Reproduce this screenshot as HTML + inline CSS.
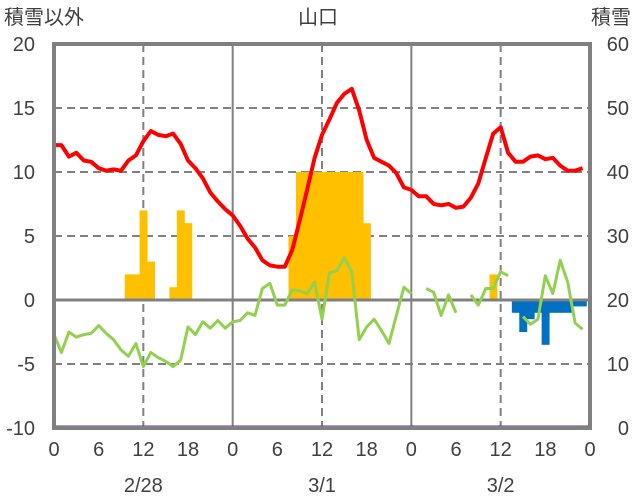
<!DOCTYPE html>
<html><head><meta charset="utf-8"><style>
body{margin:0;background:#fff}
svg{display:block;font-family:"Liberation Sans","Noto Sans CJK JP",sans-serif}
</style></head><body>
<svg id="c" width="636" height="501" xmlns="http://www.w3.org/2000/svg"></svg>
<script>
const temps=[12.1,12.1,11.2,11.5,10.9,10.8,10.3,10.1,10.2,10.1,10.9,11.3,12.4,13.2,12.9,12.8,13.0,12.2,10.9,10.3,9.5,8.4,7.7,7.1,
6.6,5.8,4.8,4.1,3.1,2.7,2.6,2.6,3.9,6.2,8.6,11.1,12.9,14.1,15.4,16.1,16.5,14.8,12.5,11.1,10.8,10.5,9.9,8.8,
8.6,8.1,8.1,7.5,7.4,7.5,7.2,7.3,8.0,9.1,11.1,13.0,13.5,11.5,10.8,10.8,11.2,11.3,11.0,11.1,10.5,10.1,10.1,10.3];
const green=[-2.7,-4.1,-2.5,-2.9,-2.7,-2.6,-2.0,-2.6,-3.1,-3.9,-4.4,-3.4,-5.2,-4.1,-4.5,-4.8,-5.2,-4.7,-2.1,-2.7,-1.7,-2.2,-1.6,-2.2,
-1.7,-1.6,-1.0,-1.2,0.9,1.3,-0.4,-0.4,0.8,0.7,0.5,1.4,-1.5,2.1,2.3,3.3,2.2,-3.1,-2.1,-1.5,-2.4,-3.4,-1.2,1.0,
0.5,null,0.9,0.6,-1.2,0.4,-1.0,null,0.4,-0.4,0.9,0.9,2.2,1.9,null,-1.3,-1.9,-1.5,1.9,0.5,3.1,1.4,-1.8,-2.3];
const orangeHours=[10,11,12,13,16,17,18,32,33,34,35,36,37,38,39,40,41,42,59];
const orangeVals=[2,2,7,3,1,7,6,5,10,10,10,10,10,10,10,10,10,6,2];
const blueHours=[62,63,64,65,66,67,68,69,70,71];
const blueVals=[-1,-2.5,-1.5,-1,-3.5,-1,-1,-1,-0.5,-0.5];
const leftTicks=[20,15,10,5,0,-5,-10];
const rightTicks=[60,50,40,30,20,10,0];
const hourTicks=[0,6,12,18,0,6,12,18,0,6,12,18,0];
const dayLabels=['2/28','3/1','3/2'];

const X0=54,X1=590,Y0=44,Y1=428;
const x=h=>X0+h*(X1-X0)/72;
const y=v=>Y0+(20-v)*(Y1-Y0)/30;
const yr=v=>Y0+(60-v)*(Y1-Y0)/60;
const svg=document.getElementById('c');
const NS='http://www.w3.org/2000/svg';
function el(t,a,p){const e=document.createElementNS(NS,t);for(const k in a)e.setAttribute(k,a[k]);(p||svg).appendChild(e);return e;}
const TC='#404040';
leftTicks.forEach(v=>{if(v===20||v===-10||v===0)return;
const g=el('line',{x1:X0,x2:X1,y1:y(v),y2:y(v),stroke:'#808080','stroke-width':2,'stroke-dasharray':'8,5'});

});
[12,36,60].forEach(h=>{const g=el('line',{x1:x(h),x2:x(h),y1:Y0,y2:Y1,stroke:'#808080','stroke-width':2,'stroke-dasharray':'8,5'});

});
[24,48].forEach(h=>{const g=el('line',{x1:x(h),x2:x(h),y1:Y0,y2:Y1,stroke:'#808080','stroke-width':2});

});
const bw=(X1-X0)/72;
orangeHours.forEach((h,i)=>{const v=orangeVals[i];
const r=el('rect',{x:x(h)-bw/2,y:y(v),width:bw+0.5,height:y(0)-y(v),fill:'#FFC000'});

});
blueHours.forEach((h,i)=>{const v=blueVals[i];
const r=el('rect',{x:x(h)-bw/2,y:y(0),width:bw+0.5,height:y(v)-y(0),fill:'#0070C0'});

});
const z=el('line',{x1:X0,x2:X1,y1:y(0),y2:y(0),stroke:'#808080','stroke-width':3});


let d='',pen=false;
green.forEach((v,h)=>{if(v===null){pen=false;return;}d+=(pen?'L':'M')+x(h).toFixed(1)+','+y(v).toFixed(1);pen=true;});
const gp=el('path',{d:d,fill:'none',stroke:'#92D050','stroke-width':3,'stroke-linejoin':'round'});


let dr='';temps.forEach((v,h)=>{dr+=(h?'L':'M')+x(h).toFixed(1)+','+y(v).toFixed(1);});
const rp=el('path',{d:dr,fill:'none',stroke:'#FF0000','stroke-width':4,'stroke-linejoin':'round'});


const pl=el('line',{x1:X0,x2:X1,y1:y(-10)-1,y2:y(-10)-1,stroke:'#7030A0','stroke-width':3});


const fr=el('rect',{x:X0,y:Y0,width:X1-X0,height:Y1-Y0,fill:'none',stroke:'#808080','stroke-width':4});


function txt(s,a,name){const t=el('text',Object.assign({fill:TC,'font-size':20},a));t.textContent=s;

return t;}
leftTicks.forEach(v=>txt(String(v),{x:35,y:y(v)+7,'text-anchor':'end'},'left-tick-label'));
rightTicks.forEach(v=>txt(String(v),{x:629,y:yr(v)+7,'text-anchor':'end'},'right-tick-label'));
hourTicks.forEach((s,i)=>txt(String(s),{x:x(i*6),y:456,'text-anchor':'middle'},'x-tick-label'));
dayLabels.forEach((s,i)=>txt(s,{x:x(12+i*24),y:492,'text-anchor':'middle'},'date-label'));
txt('積雪以外',{x:4,y:24},'left-axis-title');
txt('積雪',{x:631,y:24,'text-anchor':'end'},'right-axis-title');
txt('山口',{x:318,y:24,'text-anchor':'middle'},'chart-title');
</script>
</body></html>
